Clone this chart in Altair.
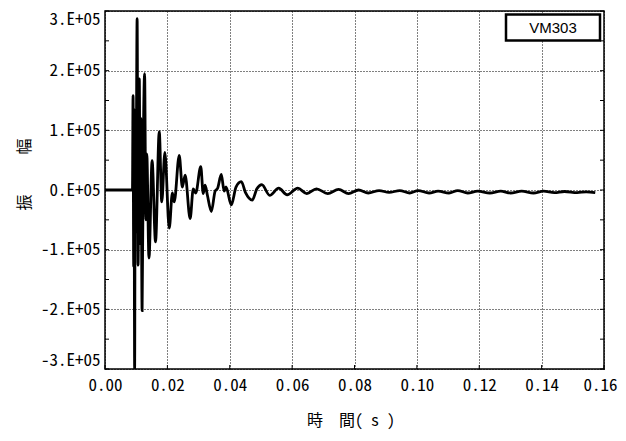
import altair as alt
import pandas as pd

# ---- data (time in s, amplitude raw) ----
time_s = [
    0.0000, 0.0088, 0.0090, 0.0092, 0.0093, 0.0095, 0.0097, 0.0099, 0.0103,
    0.0106, 0.0110, 0.0113, 0.0115, 0.0119, 0.0123, 0.0127, 0.0131, 0.0134,
    0.0141, 0.0151, 0.0162, 0.0174, 0.0182, 0.0192, 0.0206, 0.0216, 0.0222,
    0.0238, 0.0248, 0.0257, 0.0273, 0.0283, 0.0291, 0.0307, 0.0315, 0.0321,
    0.0328, 0.0341, 0.0353, 0.0361, 0.0373, 0.0382, 0.0388, 0.0405, 0.0420,
    0.0437, 0.0451, 0.0472, 0.0487, 0.0503, 0.0528, 0.0557, 0.0584, 0.0618,
    0.0647, 0.0678, 0.0714, 0.0749, 0.0781, 0.0813, 0.0844, 0.0879, 0.0911,
    0.0945, 0.0977, 0.1004, 0.1039, 0.1068, 0.1103, 0.1131, 0.1163, 0.1195,
    0.1234, 0.1269, 0.1300, 0.1336, 0.1374, 0.1406, 0.1441, 0.1473, 0.1514,
    0.1543, 0.1572,
]
amplitude = [
    0, 0, 158000, -128000, 135000, -300000, 110000, -70000, 287000,
    -126000, 186000, -90000, 120000, -202000, 80000, 195000, -50000, 60000,
    -114000, 49000, -87000, 98000, -20000, 63000, -64000, -5000, -20000,
    58000, 5000, 25000, -48000, 2000, -5000, 39000, -6000, 8000,
    -8000, -36000, -2000, 3000, 26000, -2000, 5000, -25000, 5000,
    14000, -5000, -17000, 2000, 9000, -9000, 3000, -8000, 3000,
    -6000, 2000, -6000, 1000, -6000, 0, -5000, -1000, -4000,
    -1000, -5000, -1000, -5000, -2000, -5000, -1000, -5000, -2000,
    -5000, -2000, -5000, -2000, -5000, -2000, -4500, -2500, -4500,
    -3000, -4500,
]
x_ticks = [0.00, 0.02, 0.04, 0.06, 0.08, 0.10, 0.12, 0.14, 0.16]
y_ticks = [-300000, -200000, -100000, 0, 100000, 200000, 300000]
y_minor = [-250000, -150000, -50000, 50000, 150000, 250000]
series_name = ["VM303"]

FONT = "Noto Sans Mono CJK JP, DejaVu Sans Mono, monospace"
NB = "\u00a0"
x_title = "時" + NB * 2 + "間(" + NB + "s" + NB + ")"
y_title = "振" + NB * 5 + "幅"

df = pd.DataFrame({"t": time_s, "a": amplitude})
xscale = alt.Scale(domain=[0, 0.16], nice=False, zero=False)
yscale = alt.Scale(domain=[-300000, 300000], nice=False)

line = alt.Chart(df).mark_line(
    color="black", strokeWidth=2.8, interpolate="monotone", clip=True
).encode(
    x=alt.X("t:Q", scale=xscale, axis=alt.Axis(
        values=x_ticks, format=".2f", title=x_title, labelFlush=False,
        labelOffset=alt.ExprRef(expr="datum.value > 0.159 ? -4 : 0"),
        titleX=245.5, titleY=51, titleAlign="center", titleBaseline="middle",
    )),
    y=alt.Y("a:Q", scale=yscale, axis=alt.Axis(
        values=y_ticks, labelExpr="datum.value/100000 + '.E+05'",
        labelFlush=True, labelFlushOffset=0,
        title=y_title, titleAngle=-90, titleX=-80.5, titleY=163,
        titleAlign="center", titleBaseline="middle",
    )),
)

ydf = pd.DataFrame({"a": y_minor + y_ticks})
left_ticks = alt.Chart(ydf).mark_rule(color="black", strokeWidth=1).encode(
    y=alt.Y("a:Q", scale=yscale), x=alt.value(0), x2=alt.value(4))
right_ticks = alt.Chart(ydf).mark_rule(color="black", strokeWidth=1).encode(
    y=alt.Y("a:Q", scale=yscale), x=alt.value(495), x2=alt.value(499))
xdf = pd.DataFrame({"t": x_ticks})
bottom_ticks = alt.Chart(xdf).mark_rule(color="black", strokeWidth=1).encode(
    x=alt.X("t:Q", scale=xscale), y=alt.value(354), y2=alt.value(358))

ldf = pd.DataFrame({"name": series_name})
legend_box = alt.Chart(ldf).mark_rect(
    fill="white", stroke="black", strokeWidth=2.5
).encode(x=alt.value(401), x2=alt.value(495), y=alt.value(3.5), y2=alt.value(29.5))
legend_text = alt.Chart(ldf).mark_text(
    font="Liberation Sans Narrow, Liberation Sans, Arial", fontSize=15,
    color="black", align="center", baseline="middle"
).encode(x=alt.value(448), y=alt.value(17), text="name:N")

chart = alt.layer(
    line, left_ticks, right_ticks, bottom_ticks, legend_box, legend_text
).properties(
    width=499, height=358,
    autosize=alt.AutoSizeParams(type="none"),
    padding={"left": 97, "top": 3, "right": 14, "bottom": 64},
).configure_view(
    stroke="black", strokeWidth=1.5
).configure_axis(
    grid=True, ticks=False, domain=False,
    labelFont=FONT, labelFontSize=17, labelColor="black",
    titleFont=FONT, titleFontSize=16, titleFontWeight="normal", titleColor="black",
    gridColor="black", gridDash=[1, 2], gridWidth=1, gridOpacity=1,
).configure_axisX(labelPadding=8).configure_axisY(labelPadding=5)

chart.save("out.html", embed_options={"renderer": "svg", "actions": False})
